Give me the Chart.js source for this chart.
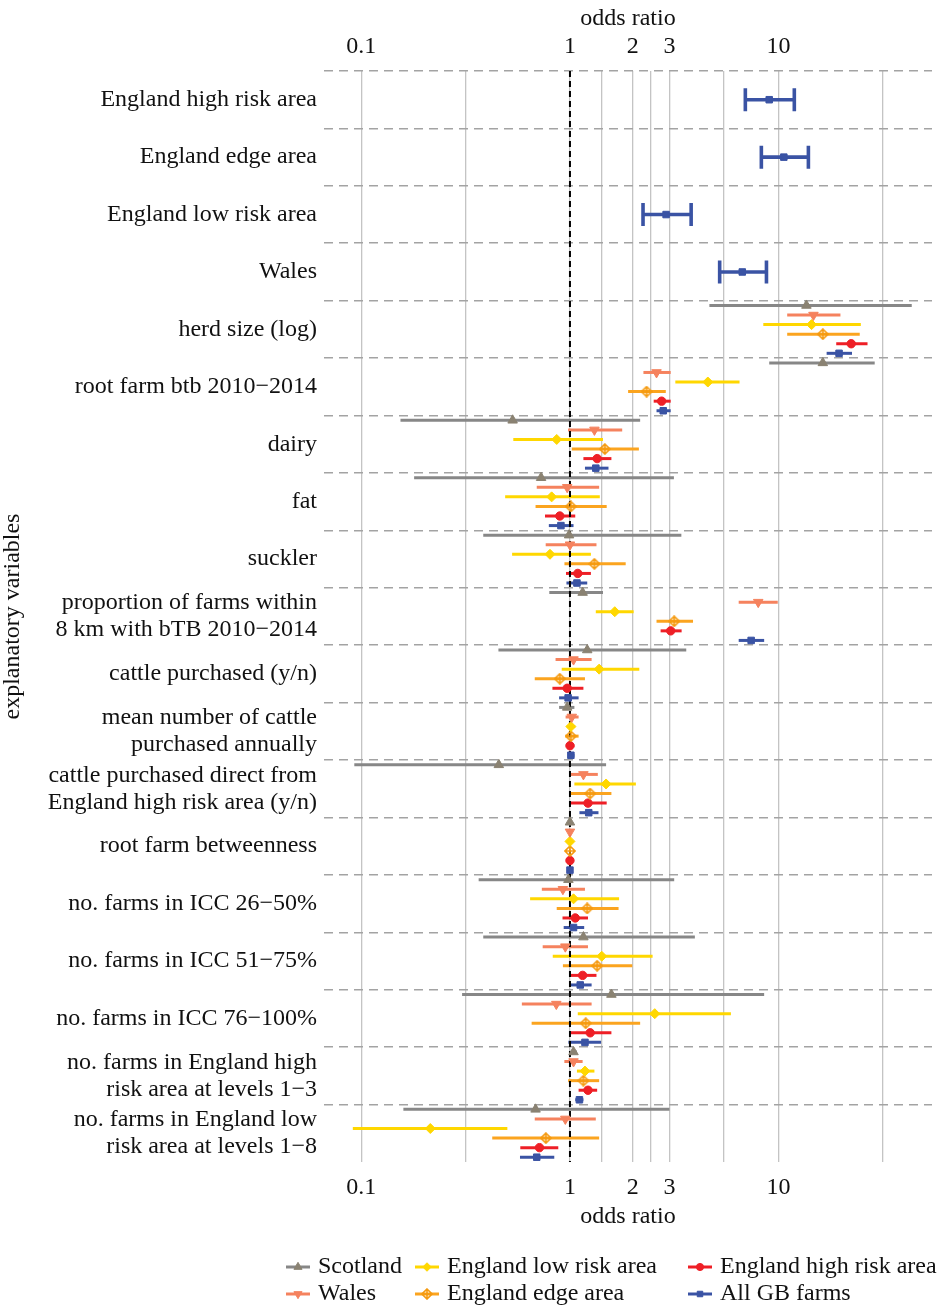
<!DOCTYPE html>
<html>
<head>
<meta charset="utf-8">
<script src="https://cdn.jsdelivr.net/npm/chart.js@4.4.0/dist/chart.umd.min.js"></script>
<style>
  html, body { margin: 0; padding: 0; background: #fff; }
</style>
</head>
<body>
<canvas id="forest" width="939" height="1307"></canvas>
<script>
// explanatory variables, top to bottom
const variables = [
  "England high risk area",
  "England edge area",
  "England low risk area",
  "Wales",
  "herd size (log)",
  "root farm btb 2010\u22122014",
  "dairy",
  "fat",
  "suckler",
  ["proportion of farms within", "8 km with bTB 2010\u22122014"],
  "cattle purchased (y/n)",
  ["mean number of cattle", "purchased annually"],
  ["cattle purchased direct from", "England high risk area (y/n)"],
  "root farm betweenness",
  "no. farms in ICC 26\u221250%",
  "no. farms in ICC 51\u221275%",
  "no. farms in ICC 76\u2212100%",
  ["no. farms in England high", "risk area at levels 1\u22123"],
  ["no. farms in England low", "risk area at levels 1\u22128"]
];

// [lower CI, odds ratio, upper CI] per variable, null = not in model
const scotland = [null, null, null, null,
  [4.66, 13.6, 43.5], [9.02, 16.3, 28.9], [0.154, 0.531, 2.17], [0.179, 0.727, 3.15],
  [0.384, 0.99, 3.42], [0.796, 1.15, 1.44], [0.454, 1.21, 3.61], [0.887, 0.97, 1.05],
  [0.0925, 0.456, 1.49], [0.99, 1.0, 1.01], [0.365, 0.983, 3.16], [0.384, 1.16, 3.97],
  [0.304, 1.58, 8.53], [1.01, 1.04, 1.08], [0.159, 0.684, 3.0]];
const wales = [null, null, null, null,
  [11.0, 14.7, 19.8], [2.25, 2.60, 3.04], [0.979, 1.31, 1.78], [0.693, 0.97, 1.38],
  [0.765, 1.0, 1.34], [6.44, 7.99, 9.91], [0.853, 1.04, 1.27], [0.953, 1.02, 1.10],
  [0.99, 1.16, 1.36], [0.99, 1.0, 1.01], [0.733, 0.925, 1.18], [0.740, 0.95, 1.22],
  [0.588, 0.86, 1.27], [0.94, 1.04, 1.15], [0.678, 0.95, 1.33]];
const lowRisk = [null, null, null, null,
  [8.45, 14.4, 24.8], [3.20, 4.58, 6.50], [0.535, 0.864, 1.44], [0.489, 0.817, 1.39],
  [0.528, 0.802, 1.26], [1.33, 1.64, 2.02], [0.913, 1.38, 2.15], [0.966, 1.01, 1.06],
  [1.05, 1.49, 2.07], [0.99, 1.0, 1.01], [0.644, 1.04, 1.72], [0.827, 1.42, 2.49],
  [1.09, 2.55, 5.91], [1.08, 1.18, 1.31], [0.091, 0.214, 0.501]];
const edgeArea = [null, null, null, null,
  [11.0, 16.3, 24.5], [1.90, 2.33, 2.88], [1.02, 1.47, 2.14], [0.684, 1.01, 1.50],
  [0.941, 1.31, 1.85], [2.60, 3.16, 3.89], [0.678, 0.894, 1.18], [0.95, 1.01, 1.10],
  [0.99, 1.25, 1.58], [0.99, 1.0, 1.01], [0.864, 1.21, 1.71], [0.925, 1.35, 1.99],
  [0.655, 1.19, 2.17], [0.98, 1.16, 1.38], [0.424, 0.766, 1.38]];
const highRisk = [null, null, null, null,
  [18.9, 22.3, 26.7], [2.52, 2.75, 3.04], [1.16, 1.35, 1.58], [0.759, 0.894, 1.06],
  [0.957, 1.09, 1.26], [2.72, 3.04, 3.43], [0.824, 0.97, 1.16], [0.966, 1.00, 1.05],
  [1.0, 1.22, 1.50], [0.99, 1.0, 1.01], [0.921, 1.06, 1.22], [1.0, 1.15, 1.34],
  [1.01, 1.25, 1.58], [1.10, 1.22, 1.35], [0.578, 0.714, 0.879]];
const allGB = [
  [6.93, 9.02, 11.9], [8.27, 10.6, 13.9], [2.24, 2.89, 3.81], [5.22, 6.70, 8.75],
  [17.0, 19.5, 22.5], [2.60, 2.80, 3.04], [1.18, 1.33, 1.53], [0.792, 0.905, 1.04],
  [0.962, 1.08, 1.21], [6.44, 7.39, 8.53], [0.887, 0.98, 1.10], [0.98, 1.01, 1.05],
  [1.11, 1.23, 1.37], [0.99, 1.0, 1.01], [0.933, 1.04, 1.17], [1.0, 1.12, 1.27],
  [0.983, 1.18, 1.41], [1.06, 1.11, 1.16], [0.576, 0.693, 0.841]];

// x axis breaks (grid lines) and their labels
const xBreaks = [0.1, 0.3162, 1, 1.4142, 2, 2.4495, 3, 5.4772, 10, 31.623];
const xLabels = ["0.1", "", "1", "", "2", "", "3", "", "10", ""];

const FONT = "'Liberation Serif', 'Times New Roman', serif";
Chart.defaults.font.family = FONT;
Chart.defaults.color = "#111";

// diamond with a plus inside (edge area marker)
function diamondPlus(color) {
  const c = document.createElement("canvas");
  c.width = 12; c.height = 12;
  const g = c.getContext("2d");
  g.strokeStyle = color;
  g.lineWidth = 1.6;
  g.beginPath();
  g.moveTo(6, 1); g.lineTo(11, 6); g.lineTo(6, 11); g.lineTo(1, 6); g.closePath();
  g.moveTo(6, 1); g.lineTo(6, 11);
  g.moveTo(1, 6); g.lineTo(11, 6);
  g.stroke();
  return c;
}

const series = [
  { label: "Scotland", values: scotland, line: "#878787", fill: "#8a8272", style: "triangle", radius: 5.5, rotation: 0 },
  { label: "Wales", values: wales, line: "#f5825e", fill: "#f5825e", style: "triangle", radius: 5.5, rotation: 180 },
  { label: "England low risk area", values: lowRisk, line: "#ffd700", fill: "#ffd700", style: "rectRot", radius: 5, rotation: 0 },
  { label: "England edge area", values: edgeArea, line: "#fba41f", fill: "#fba41f", style: diamondPlus("#f59a10"), radius: 6, rotation: 0 },
  { label: "England high risk area", values: highRisk, line: "#ee1f26", fill: "#ee1f26", style: "circle", radius: 4.2, rotation: 0 },
  { label: "All GB farms", values: allGB, line: "#3a53a4", fill: "#3a53a4", style: "rect", radius: 4.6, rotation: 0 }
];

// how many series have each variable: single ones sit in the middle of the row
const presentCount = variables.map((v, k) => series.filter(s => s.values[k]).length);

const datasets = series.map((s, j) => {
  const data = [];
  s.values.forEach((t, k) => {
    if (!t) return;
    const single = presentCount[k] === 1;
    data.push({ x: t[1], y: k + (single ? 0 : (j - 2.5) / 6), lo: t[0], hi: t[2], capped: single });
  });
  return {
    label: s.label,
    data: data,
    barColor: s.line,
    backgroundColor: s.fill,
    borderColor: s.fill,
    borderWidth: 1,
    pointStyle: s.style,
    pointRadius: s.radius,
    pointHoverRadius: s.radius,
    pointRotation: s.rotation
  };
});

// horizontal CI lines + dashed reference line at OR = 1
const errorBars = {
  id: "errorBars",
  beforeDatasetsDraw(chart) {
    const ctx = chart.ctx;
    const xs = chart.scales.x;
    const area = chart.chartArea;
    ctx.save();
    chart.data.datasets.forEach((ds, i) => {
      const meta = chart.getDatasetMeta(i);
      ctx.strokeStyle = ds.barColor;
      ds.data.forEach((d, k) => {
        const y = meta.data[k].y;
        const x0 = xs.getPixelForValue(d.lo);
        const x1 = xs.getPixelForValue(d.hi);
        ctx.lineWidth = d.capped ? 3.6 : 3;
        ctx.beginPath();
        ctx.moveTo(x0, y); ctx.lineTo(x1, y);
        if (d.capped) {
          ctx.moveTo(x0, y - 11.5); ctx.lineTo(x0, y + 11.5);
          ctx.moveTo(x1, y - 11.5); ctx.lineTo(x1, y + 11.5);
        }
        ctx.stroke();
      });
    });
    const xr = xs.getPixelForValue(1);
    ctx.strokeStyle = "#000";
    ctx.lineWidth = 2;
    ctx.setLineDash([6, 4]);
    ctx.beginPath();
    ctx.moveTo(xr, area.top); ctx.lineTo(xr, area.bottom);
    ctx.stroke();
    ctx.restore();
  }
};

// legend in three columns, two rows
const legendGrid = {
  id: "legendGrid",
  afterDraw(chart) {
    const ctx = chart.ctx;
    const cols = [298, 427, 700];
    const rows = [1267, 1294];
    const order = [0, 2, 4, 1, 3, 5];
    ctx.save();
    order.forEach((idx, n) => {
      const s = series[idx];
      const cx = cols[n % 3];
      const cy = rows[Math.floor(n / 3)];
      ctx.strokeStyle = s.line;
      ctx.lineWidth = 3;
      ctx.beginPath();
      ctx.moveTo(cx - 12, cy); ctx.lineTo(cx + 12, cy);
      ctx.stroke();
      ctx.fillStyle = s.fill;
      ctx.strokeStyle = s.fill;
      ctx.lineWidth = 1;
      Chart.helpers.drawPoint(ctx, { pointStyle: s.style, radius: s.radius * 0.85, rotation: s.rotation, borderWidth: 1 }, cx, cy);
      ctx.fillStyle = "#111";
      ctx.font = "24px " + FONT;
      ctx.textBaseline = "middle";
      ctx.textAlign = "left";
      ctx.fillText(s.label, cx + 20, cy);
    });
    ctx.restore();
  }
};

const xMin = 0.0662, xMax = 54.4;

const xAxisCommon = {
  type: "logarithmic",
  min: xMin,
  max: xMax,
  afterBuildTicks: (scale) => { scale.ticks = xBreaks.map(v => ({ value: v })); },
  ticks: {
    autoSkip: false,
    maxRotation: 0,
    font: { size: 24, lineHeight: 1.2 },
    color: "#111",
    callback: (value, index) => xLabels[index]
  },
  border: { display: false },
  title: { display: true, text: "odds ratio", font: { size: 24, lineHeight: 1.2 }, color: "#111" }
};

new Chart(document.getElementById("forest"), {
  type: "scatter",
  data: { datasets: datasets },
  options: {
    responsive: false,
    animation: false,
    layout: { padding: { left: 0, right: 2, top: 0, bottom: 75 } },
    plugins: { legend: { display: false }, tooltip: { enabled: false } },
    scales: {
      x: Object.assign({}, xAxisCommon, {
        position: "bottom",
        grid: { color: "#c4c4c4", lineWidth: 1.3, drawTicks: false },
        ticks: Object.assign({}, xAxisCommon.ticks, { padding: 11.6 }),
        title: Object.assign({}, xAxisCommon.title, { padding: { top: 0, bottom: 1 } }),
        afterFit: (scale) => { scale.height = 70; }
      }),
      x2: Object.assign({}, xAxisCommon, {
        position: "top",
        grid: { display: false, drawTicks: false },
        ticks: Object.assign({}, xAxisCommon.ticks, { padding: 9.6 }),
        title: Object.assign({}, xAxisCommon.title, { padding: { top: 4, bottom: 0 } }),
        afterFit: (scale) => { scale.height = 71; }
      }),
      y: {
        type: "linear",
        reverse: true,
        min: -0.5,
        max: variables.length - 0.5,
        afterBuildTicks: (scale) => {
          const t = [];
          for (let v = -0.5; v <= variables.length - 0.5; v += 0.5) t.push({ value: v });
          scale.ticks = t;
        },
        ticks: {
          autoSkip: false,
          padding: 7,
          font: { size: 24, lineHeight: 1.12 },
          color: "#111",
          callback: (value) => Number.isInteger(value) ? variables[value] : ""
        },
        grid: {
          drawTicks: false,
          lineWidth: 1.6,
          color: (c) => {
            const v = c.tick ? c.tick.value : 0;
            return (!Number.isInteger(v) && v < variables.length - 0.5) ? "#a3a3a3" : "rgba(0,0,0,0)";
          }
        },
        border: { display: false, dash: [9, 6] },
        title: { display: true, text: "explanatory variables", font: { size: 24, lineHeight: 1.1 }, color: "#111", padding: { top: 0, bottom: 0 } },
        afterFit: (scale) => { scale.width = 324; }
      }
    }
  },
  plugins: [errorBars, legendGrid]
});
</script>
</body>
</html>
